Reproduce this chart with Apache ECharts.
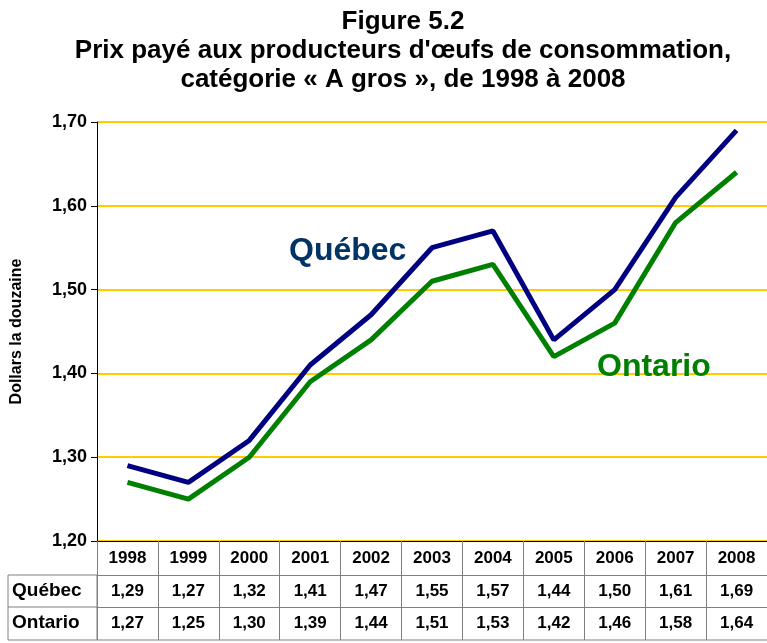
<!DOCTYPE html>
<html>
<head>
<meta charset="utf-8">
<script src="https://cdn.jsdelivr.net/npm/echarts@6/dist/echarts.min.js"></script>
<style>
  html, body { margin: 0; padding: 0; background: #fff; }
  #main { width: 767px; height: 643px; }
</style>
</head>
<body>
<div id="main"></div>
<script>
// données
var years = ['1998', '1999', '2000', '2001', '2002', '2003', '2004', '2005', '2006', '2007', '2008'];
var quebec = [1.29, 1.27, 1.32, 1.41, 1.47, 1.55, 1.57, 1.44, 1.50, 1.61, 1.69];
var ontario = [1.27, 1.25, 1.30, 1.39, 1.44, 1.51, 1.53, 1.42, 1.46, 1.58, 1.64];
var yTicks = [1.20, 1.30, 1.40, 1.50, 1.60, 1.70];

var fmt = function (v) { return v.toFixed(2).replace('.', ','); };
var font = '"Liberation Sans", Arial, sans-serif';
var tableLine = { show: true, lineStyle: { color: '#808080', width: 1 } };

var chart = echarts.init(document.getElementById('main'));

var tableAxis = function (data, offset) {
    return {
        type: 'category',
        position: 'bottom',
        offset: offset,
        data: data,
        boundaryGap: true,
        axisLine: tableLine,
        axisTick: { show: true, length: 33, inside: false, lineStyle: { color: '#808080', width: 1 } },
        axisLabel: { interval: 0, margin: 8, color: '#000', fontFamily: font, fontWeight: 'bold', fontSize: 17 },
        splitLine: { show: false }
    };
};

var option = {
    animation: false,
    title: {
        text: 'Figure 5.2\nPrix payé aux producteurs d\'œufs de consommation,\ncatégorie « A gros », de 1998 à 2008',
        left: 398,
        top: 2,
        textAlign: 'center',
        textStyle: { fontFamily: font, fontWeight: 'bold', fontSize: 26, lineHeight: 29, color: '#000' }
    },
    grid: { left: 97, right: 0, top: 122, bottom: 102, outerBoundsMode: 'none' },
    xAxis: [
        {
            type: 'category',
            position: 'bottom',
            data: years,
            boundaryGap: true,
            axisLine: { show: true, lineStyle: { color: '#000', width: 1 } },
            axisTick: { show: true, length: 34, lineStyle: { color: '#808080', width: 1 } },
            axisLabel: { interval: 0, margin: 9, color: '#000', fontFamily: font, fontWeight: 'bold', fontSize: 17 },
            splitLine: { show: false }
        },
        tableAxis(quebec.map(fmt), 34),
        tableAxis(ontario.map(fmt), 66)
    ],
    yAxis: {
        type: 'value',
        min: yTicks[0],
        max: yTicks[yTicks.length - 1],
        interval: 0.1,
        name: 'Dollars la douzaine',
        nameLocation: 'middle',
        nameGap: 72,
        nameRotate: 90,
        nameTextStyle: { fontFamily: font, fontWeight: 'bold', fontSize: 16, color: '#000' },
        axisLine: { show: true, lineStyle: { color: '#000', width: 1 } },
        axisTick: { show: true, length: 6, lineStyle: { color: '#000' } },
        axisLabel: {
            margin: 10,
            color: '#000',
            fontFamily: font,
            fontWeight: 'bold',
            fontSize: 18,
            formatter: function (v) { return fmt(v); }
        },
        splitLine: { show: true, lineStyle: { color: '#FFCC00', width: 2 } }
    },
    series: [
        {
            name: 'Québec',
            type: 'line',
            data: quebec,
            showSymbol: false,
            lineStyle: { color: '#000080', width: 5 },
            itemStyle: { color: '#000080' },
            z: 3
        },
        {
            name: 'Ontario',
            type: 'line',
            data: ontario,
            showSymbol: false,
            lineStyle: { color: '#008000', width: 5 },
            itemStyle: { color: '#008000' },
            z: 2
        }
    ],
    graphic: [
        {
            type: 'text', left: 289, top: 235, z: 100,
            style: { text: 'Québec', fill: '#003366', font: 'bold 32px ' + font }
        },
        {
            type: 'text', left: 597, top: 351, z: 100,
            style: { text: 'Ontario', fill: '#008000', font: 'bold 32px ' + font }
        },
        {
            type: 'rect', z: 100,
            shape: { x: 8, y: 575, width: 89, height: 65 },
            style: { fill: 'none', stroke: '#808080', lineWidth: 1 }
        },
        {
            type: 'line', z: 100,
            shape: { x1: 8, y1: 607, x2: 97, y2: 607 },
            style: { stroke: '#808080', lineWidth: 1 }
        },
        {
            type: 'line', z: 100,
            shape: { x1: 97, y1: 640, x2: 767, y2: 640 },
            style: { stroke: '#808080', lineWidth: 1 }
        },
        {
            type: 'text', left: 12, top: 581, z: 100,
            style: { text: 'Québec', fill: '#000', font: 'bold 19px ' + font }
        },
        {
            type: 'text', left: 12, top: 613, z: 100,
            style: { text: 'Ontario', fill: '#000', font: 'bold 19px ' + font }
        }
    ]
};

chart.setOption(option);
</script>
</body>
</html>
